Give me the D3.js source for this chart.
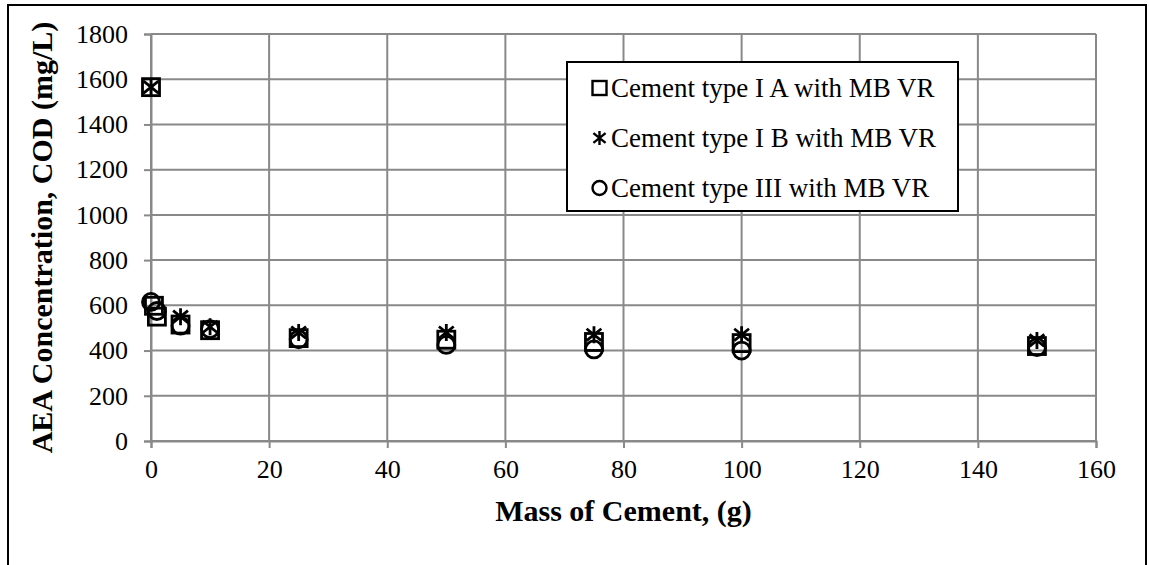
<!DOCTYPE html>
<html><head><meta charset="utf-8">
<script src="https://cdn.jsdelivr.net/npm/d3@7"></script>
<style>body{margin:0;background:#fff}svg{display:block}text{font-family:"Liberation Serif","Times New Roman",serif}</style>
</head><body><div id="c"></div>
<script>
const xTicks = [0, 20, 40, 60, 80, 100, 120, 140, 160];
const yTicks = [0, 200, 400, 600, 800, 1000, 1200, 1400, 1600, 1800];
const seriesNames = ["Cement type I A with MB VR", "Cement type I B with MB VR", "Cement type III with MB VR"];
const xA = [0, 0.5, 1, 5, 10, 25, 50, 75, 100, 150];
const yA = [1565, 598, 550, 515, 490, 455, 448, 438, 433, 420];
const xB = [0, 5, 10, 25, 50, 75, 100, 150];
const yB = [1565, 550, 505, 480, 480, 470, 470, 445];
const xC = [0, 1, 5, 10, 25, 50, 75, 100, 150];
const yC = [615, 575, 510, 495, 450, 425, 405, 400, 415];

const W = 1149, H = 565;
const svg = d3.select("#c").append("svg").attr("width", W).attr("height", H);
const m = {l: 151, r: 1096, t: 34, b: 441};
const x = d3.scaleLinear().domain([0, 160]).range([m.l, m.r]);
const y = d3.scaleLinear().domain([0, 1800]).range([m.b, m.t]);
const grid = "#898989";

// outer border
svg.append("rect").attr("x", 8).attr("y", 5).attr("width", 1138).attr("height", 600)
  .attr("fill", "none").attr("stroke", "#000").attr("stroke-width", 2);

// grid
svg.append("g").selectAll("line").data(xTicks).join("line")
  .attr("x1", d => x(d)).attr("x2", d => x(d)).attr("y1", m.t).attr("y2", m.b)
  .attr("stroke", grid).attr("stroke-width", 2);
svg.append("g").selectAll("line").data(yTicks).join("line")
  .attr("x1", m.l).attr("x2", m.r).attr("y1", d => y(d)).attr("y2", d => y(d))
  .attr("stroke", grid).attr("stroke-width", 2);

// axes
const xAxis = svg.append("g").attr("transform", `translate(0,${m.b})`)
  .call(d3.axisBottom(x).tickValues(xTicks).tickSize(7).tickPadding(12).tickFormat(d3.format("d")));
const yAxis = svg.append("g").attr("transform", `translate(${m.l},0)`)
  .call(d3.axisLeft(y).tickValues(yTicks).tickSize(7).tickPadding(16).tickFormat(d3.format("d")));
[xAxis, yAxis].forEach(g => {
  g.attr("font-family", null);
  g.select(".domain").attr("stroke", grid).attr("stroke-width", 2);
  g.selectAll(".tick line").attr("stroke", grid).attr("stroke-width", 2);
  g.selectAll("text").attr("font-size", 26).attr("fill", "#000");
});

// titles
svg.append("text").attr("x", (m.l + m.r) / 2).attr("y", 521).attr("text-anchor", "middle")
  .attr("font-size", 30).attr("font-weight", "bold").text("Mass of Cement, (g)");
svg.append("text").attr("transform", `translate(41,${(m.t + m.b) / 2}) rotate(-90)`)
  .attr("text-anchor", "middle").attr("dominant-baseline", "central")
  .attr("font-size", 30).attr("font-weight", "bold").text("AEA Concentration, COD (mg/L)");

// markers
function square(g, s, sw) {
  g.append("rect").attr("x", -s / 2).attr("y", -s / 2).attr("width", s).attr("height", s)
    .attr("fill", "none").attr("stroke", "#000").attr("stroke-width", sw);
}
function star(g, s, sw) {
  const h = s / 2;
  const p = `M0,${-h}V${h}M${-h * 0.87},${-h * 0.7}L${h * 0.87},${h * 0.7}M${h * 0.87},${-h * 0.7}L${-h * 0.87},${h * 0.7}`;
  g.append("path").attr("d", p).attr("stroke", "#000").attr("stroke-width", sw).attr("fill", "none");
}
function circle(g, s, sw) {
  g.append("circle").attr("r", s / 2).attr("fill", "none").attr("stroke", "#000").attr("stroke-width", sw);
}
const series = [
  {xs: xA, ys: yA, draw: square},
  {xs: xB, ys: yB, draw: star},
  {xs: xC, ys: yC, draw: circle}
];
series.forEach(s => {
  const pts = s.xs.map((d, i) => [d, s.ys[i]]);
  svg.append("g").selectAll("g").data(pts).join("g")
    .attr("transform", d => `translate(${x(d[0])},${y(d[1])})`)
    .each(function () { s.draw(d3.select(this), 17, 2.8); });
});

// legend
const lg = svg.append("g");
lg.append("rect").attr("x", 567).attr("y", 62).attr("width", 391).attr("height", 149)
  .attr("fill", "#fff").attr("stroke", "#000").attr("stroke-width", 2);
seriesNames.forEach((n, i) => {
  const cy = 88 + i * 50;
  const g = lg.append("g").attr("transform", `translate(599.5,${cy})`);
  series[i].draw(g, 14, 2.4);
  lg.append("text").attr("x", 611).attr("y", cy).attr("dominant-baseline", "central")
    .attr("font-size", 27).text(n);
});
</script></body></html>
